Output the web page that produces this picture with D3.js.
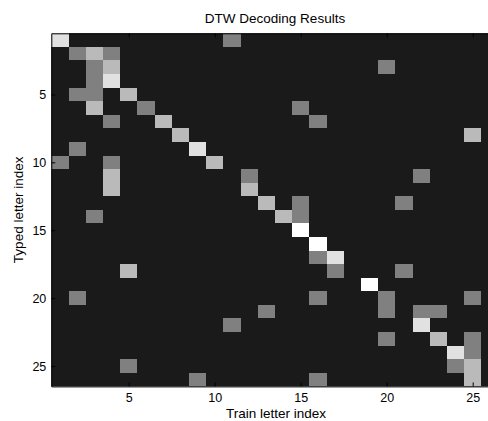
<!DOCTYPE html>
<html>
<head>
  <meta charset="utf-8">
  <title>DTW Decoding Results</title>
  <script src="https://d3js.org/d3.v7.min.js"></script>
  <style>
    body { margin: 0; background: #fff; }
    text { font-family: "Liberation Sans", Arial, sans-serif; fill: #000; }
  </style>
</head>
<body>
<script>
  // rows = typed letters, columns = train letters
  var typedIdx = d3.range(1, 27)
  var trainIdx = d3.range(1, 27)
  var tickVals = [5, 10, 15, 20, 25]

  // non-zero cells of the decoding matrix (row, column, level)
  var hitRow = [1,1, 2,2,2, 3,3,3, 4,4, 5,5,5, 6,6,6, 7,7,7, 8,8, 9,9, 10,10,10, 11,11,11, 12,12,
                13,13,13, 14,14,14, 15, 16, 17,17, 18,18,18, 19, 20,20,20,20, 21,21,21,21, 22,22,
                23,23,23, 24,24, 25,25,25, 26,26,26]
  var hitCol = [1,11, 2,3,4, 3,4,20, 3,4, 2,3,5, 3,6,15, 4,7,16, 8,25, 2,9, 1,4,10, 4,12,22, 4,12,
                13,15,21, 3,14,15, 15, 16, 16,17, 5,17,21, 19, 2,16,20,25, 13,20,22,23, 11,22,
                20,23,25, 24,25, 5,24,25, 9,16,25]
  var hitLevel = [3,1, 1,2,1, 1,2,1, 1,3, 1,1,2, 2,1,1, 1,2,1, 2,2, 1,3, 1,1,2, 2,1,1, 2,2,
                  2,1,1, 1,2,1, 4, 4, 1,3, 2,1,1, 4, 1,1,1,1, 1,1,1,1, 1,3,
                  1,2,1, 3,1, 1,1,2, 1,1,2]
  var levels = [0, 1, 2, 3, 4]

  var width = 488, height = 421

  var svg = d3.select('body').append('svg')
    .attr('width', width)
    .attr('height', height)

  var x = d3.scaleLinear().domain([0.5, 26.5]).range([51.3, 498.5])
  var y = d3.scaleLinear().domain([0.5, 26.5]).range([33.3, 386.4])
  var color = d3.scaleOrdinal()
    .domain(levels)
    .range(['#1a1a1a', '#808080', '#bababa', '#e1e1e1', '#ffffff'])

  var lookup = {}
  for (var i = 0; i < hitRow.length; i++) {
    lookup[hitRow[i] + '-' + hitCol[i]] = hitLevel[i]
  }

  var cells = []
  typedIdx.forEach(function (r) {
    trainIdx.forEach(function (c) {
      cells.push({ r: r, c: c, v: lookup[r + '-' + c] || 0 })
    })
  })

  // dark backing so no seams show between the cells
  svg.append('rect')
    .attr('x', x(0.5))
    .attr('y', y(0.5))
    .attr('width', x(26.5) - x(0.5))
    .attr('height', y(26.5) - y(0.5))
    .attr('fill', color(0))

  svg.append('g')
    .attr('shape-rendering', 'crispEdges')
    .selectAll('rect')
    .data(cells.filter(function (d) { return d.v > 0 }))
    .enter()
    .append('rect')
    .attr('x', function (d) { return x(d.c - 0.5) })
    .attr('y', function (d) { return y(d.r - 0.5) })
    .attr('width', x(1.5) - x(0.5))
    .attr('height', y(1.5) - y(0.5))
    .attr('fill', function (d) { return color(d.v) })

  // axes, matlab style ticks pointing inwards
  svg.append('g')
    .attr('transform', 'translate(0,' + y(26.5) + ')')
    .call(d3.axisBottom(x).tickValues(tickVals).tickSizeInner(-4).tickSizeOuter(0).tickPadding(7))
  svg.append('g')
    .attr('transform', 'translate(0,' + y(0.5) + ')')
    .call(d3.axisTop(x).tickValues(tickVals).tickSizeInner(-4).tickSizeOuter(0).tickFormat(''))
  svg.append('g')
    .attr('transform', 'translate(' + x(0.5) + ',0)')
    .call(d3.axisLeft(y).tickValues(tickVals).tickSizeInner(-4).tickSizeOuter(0).tickPadding(5))

  svg.selectAll('.domain').attr('stroke', '#000')
  svg.selectAll('.tick line').attr('stroke', '#000')
  svg.selectAll('.tick text')
    .style('font-size', '12.5px')
    .attr('fill', '#000')

  svg.append('text')
    .attr('x', 275)
    .attr('y', 23)
    .attr('text-anchor', 'middle')
    .style('font-size', '13.5px')
    .text('DTW Decoding Results')

  svg.append('text')
    .attr('x', 276)
    .attr('y', 418)
    .attr('text-anchor', 'middle')
    .style('font-size', '13.5px')
    .text('Train letter index')

  svg.append('text')
    .attr('transform', 'translate(23,' + ((y(0.5) + y(26.5)) / 2) + ') rotate(-90)')
    .attr('text-anchor', 'middle')
    .style('font-size', '13.5px')
    .text('Typed letter index')
</script>
</body>
</html>
